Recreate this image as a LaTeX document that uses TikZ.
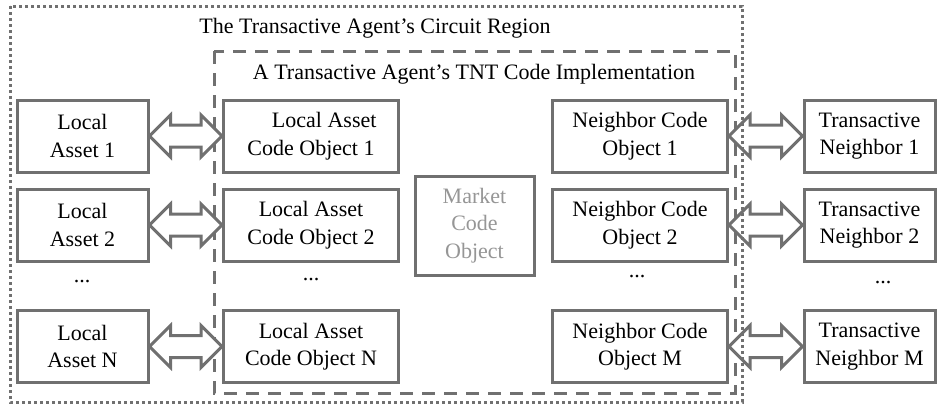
\documentclass[tikz,border=0pt]{standalone}
\usepackage{fontspec}
\setmainfont{Liberation Serif}
\usetikzlibrary{calc}
\definecolor{linegray}{RGB}{112,112,112}
\definecolor{textgray}{RGB}{150,150,150}

% double block arrow between two named boxes
\newcommand{\dualarrow}[2]{%
  \draw[blockarrow] let \p1=(#1.east), \p2=(#2.west) in
    (\x1,\y1) -- (\x1+21pt,\y1+21pt) -- (\x1+21pt,\y1+11pt) -- (\x2-21pt,\y1+11pt)
    -- (\x2-21pt,\y1+21pt) -- (\x2,\y1) -- (\x2-21pt,\y1-21pt) -- (\x2-21pt,\y1-11pt)
    -- (\x1+21pt,\y1-11pt) -- (\x1+21pt,\y1-21pt) -- cycle;}

\begin{document}
\begin{tikzpicture}[x=1pt, y=-1pt,
    box/.style={draw=linegray, line width=3pt, fill=white, minimum width=131pt,
      minimum height=72pt, inner sep=0pt, align=center,
      font=\fontsize{22}{27.5}\selectfont},
    widebox/.style={box, minimum width=175pt},
    blockarrow/.style={draw=linegray, line width=3pt, fill=white, line join=miter},
    dots/.style={font=\fontsize{22}{27}\selectfont},
    title/.style={font=\fontsize{22}{27}\selectfont}]
    \useasboundingbox (0,0) rectangle (938,405);

    % Regions
    \draw[linegray, line width=3pt, dash pattern=on 13pt off 9pt] (214,51) rectangle (735,393);
    \node[title] (circuit) at (375,28) {The Transactive Agent's Circuit Region};
    \node[title] (tnt) at (474,74) {A Transactive Agent's TNT Code Implementation};

    % Local assets
    \node[box] (asset1) at (82.5,136) {Local\\Asset 1};
    \node[box] (asset2) at (82.5,225) {Local\\Asset 2};
    \node[dots] (assetdots) at (82,282) {...};
    \node[box] (assetN) at (82.5,346.5) {Local\\Asset N};

    % Local asset code objects
    \node[widebox] (lao1) at (311,136) {\hspace{1.2em}Local Asset\\Code Object 1};
    \node[widebox] (lao2) at (311,225) {Local Asset\\Code Object 2};
    \node[dots] (laodots) at (311,280) {...};
    \node[widebox] (laoN) at (311,346.5) {Local Asset\\Code Object N};

    % Market
    \node[box, minimum width=119pt, minimum height=99pt, text=textgray] (market) at (474.5,225.5) {Market\\Code\\Object};

    % Neighbor code objects
    \node[widebox] (nco1) at (640,136) {Neighbor Code\\Object 1};
    \node[widebox] (nco2) at (640,225) {Neighbor Code\\Object 2};
    \node[dots] (ncodots) at (637,277) {...};
    \node[widebox] (ncoM) at (640,346.5) {Neighbor Code\\Object M};

    % Transactive neighbors
    \node[box] (tn1) at (869.5,136) {Transactive\\Neighbor 1};
    \node[box] (tn2) at (869.5,225) {Transactive\\Neighbor 2};
    \node[dots] (tndots) at (883,283) {...};
    \node[box] (tnM) at (869.5,346.5) {Transactive\\Neighbor M};

    % Exchanges
    \dualarrow{asset1}{lao1}
    \dualarrow{asset2}{lao2}
    \dualarrow{assetN}{laoN}
    \dualarrow{nco1}{tn1}
    \dualarrow{nco2}{tn2}
    \dualarrow{ncoM}{tnM}

    \draw[linegray, line width=3pt, dash pattern=on 3pt off 3pt] (10,6) rectangle (742,402);
\end{tikzpicture}
\end{document}
